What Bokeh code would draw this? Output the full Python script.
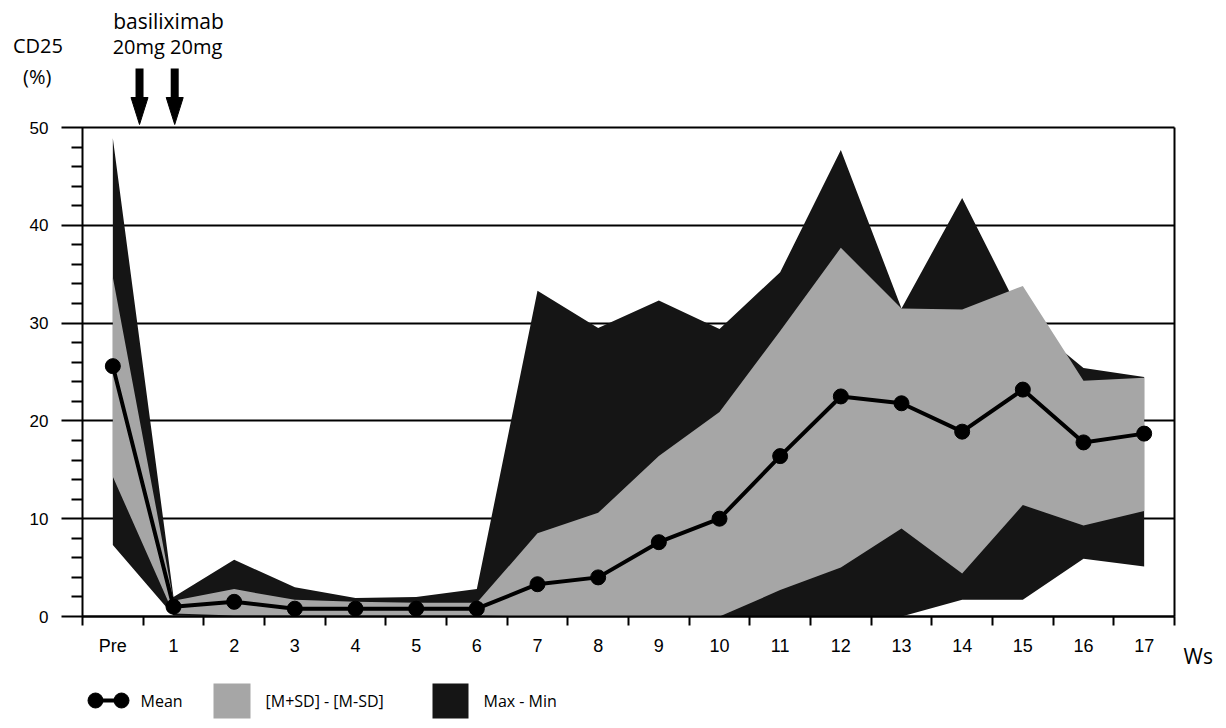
from bokeh.plotting import figure
from bokeh.models import Range1d, FixedTicker, LinearAxis
from bokeh.embed import file_html
from bokeh.resources import INLINE
from bokeh.core.properties import value

# ---- data (CD25 %) ----
weeks = ["Pre", "1", "2", "3", "4", "5", "6", "7", "8", "9", "10",
         "11", "12", "13", "14", "15", "16", "17"]
mean_v = [25.6, 1.0, 1.5, 0.8, 0.8, 0.8, 0.8, 3.3, 4.0, 7.6, 10.0,
          16.4, 22.5, 21.8, 18.9, 23.2, 17.8, 18.7]
msd_upper = [34.7, 1.6, 2.8, 1.7, 1.5, 1.4, 1.4, 8.5, 10.6, 16.4, 20.9,
             29.2, 37.7, 31.5, 31.4, 33.8, 24.1, 24.4]
msd_lower = [14.3, 0.3, 0.1, 0.1, 0.1, 0.1, 0.1, 0.0, 0.0, 0.0, 0.0,
             2.7, 5.0, 9.0, 4.4, 11.4, 9.3, 10.8]
max_v = [48.9, 2.0, 5.8, 3.0, 1.9, 2.0, 2.8, 33.3, 29.5, 32.3, 29.4,
         35.2, 47.7, 31.5, 42.8, 30.5, 25.4, 24.5]
min_v = [7.3, 0.1, 0.0, 0.0, 0.0, 0.0, 0.0, 0.0, 0.0, 0.0, 0.0,
         0.0, 0.0, 0.0, 1.7, 1.7, 5.9, 5.1]
y_ticks = [0, 10, 20, 30, 40, 50]
y_minor = [2, 4, 6, 8, 12, 14, 16, 18, 22, 24, 26, 28, 32, 34, 36, 38, 42, 44, 46, 48]
dose_weeks = [0.44, 1.02]          # basiliximab dosing positions
dose_labels = ["20mg", "20mg"]
legend_labels = ["Mean", "[M+SD] - [M-SD]", "Max - Min"]

BLACK = "#151515"
GRAY = "#a6a6a6"
FONT = "Open Sans"
xs = list(range(len(weeks)))
X_LO, X_HI = -0.5, len(weeks) - 0.5
Y_LO, Y_HI = 0, 50

# ---- layout constants (pixels) ----
W, H = 1218, 722
FL, FW = 82, 1092          # plot area left edge and width
FB, FT = 616, 127          # pixel rows of y=0 and y=50
bw = FW / (X_HI - X_LO)
ppu = (FB - FT) / (Y_HI - Y_LO)


def hx(px):
    return X_LO + (px - FL) / bw


def vy(py):
    return Y_LO + (FB - py) / ppu


p = figure(width=W, height=H,
           x_range=Range1d(hx(0), hx(W)), y_range=Range1d(vy(H), vy(0)),
           output_backend="svg", toolbar_location=None, min_border=0)
p.outline_line_color = None
p.background_fill_color = "white"
p.border_fill_color = "white"
p.xgrid.visible = False
p.ygrid.visible = False

# ---- data marks ----
p.varea(x=xs, y1=min_v, y2=max_v, fill_color=BLACK)
p.varea(x=xs, y1=msd_lower, y2=msd_upper, fill_color=GRAY)
p.line(xs, mean_v, line_color="black", line_width=4)
p.scatter(xs, mean_v, size=15, color="black")

# ---- x axis at y = 0 ----
xa = p.xaxis[0]
xa.fixed_location = Y_LO
xa.bounds = (X_LO, X_HI)
xa.ticker = FixedTicker(ticks=xs, minor_ticks=[i - 0.5 for i in range(len(weeks) + 1)])
xa.major_label_overrides = {i: w for i, w in enumerate(weeks)}
xa.major_tick_out = 0
xa.major_tick_in = 0
xa.minor_tick_out = 9
xa.minor_tick_in = 0
xa.minor_tick_line_width = 2
xa.minor_tick_line_color = "black"
xa.axis_line_width = 2
xa.axis_line_color = "black"
xa.major_label_text_font = "Liberation Sans"
xa.major_label_text_font_size = "18px"
xa.major_label_text_color = "black"
xa.major_label_standoff = 10

# ---- y axis at left edge; long inward major ticks act as the grid ----
ya = p.yaxis[0]
ya.fixed_location = X_LO
ya.bounds = (Y_LO, Y_HI)
ya.level = "underlay"
ya.ticker = FixedTicker(ticks=y_ticks, minor_ticks=y_minor)
ya.major_tick_out = 21
ya.major_tick_in = FW
ya.minor_tick_out = 11
ya.minor_tick_in = 0
ya.major_tick_line_width = 2
ya.minor_tick_line_width = 2
ya.major_tick_line_color = "black"
ya.minor_tick_line_color = "black"
ya.axis_line_width = 2
ya.axis_line_color = "black"
ya.major_label_text_font = "Liberation Sans"
ya.major_label_text_font_size = "17px"
ya.major_label_text_color = "black"
ya.major_label_standoff = 13

# right frame line
ra = LinearAxis(fixed_location=X_HI, bounds=(Y_LO, Y_HI), ticker=FixedTicker(ticks=[]),
                axis_line_width=2, axis_line_color="black",
                major_tick_out=0, major_tick_in=0, minor_tick_out=0, minor_tick_in=0)
p.add_layout(ra, "right")

# ---- texts above / beside the plot ----
txt = dict(text_font=value(FONT), text_color="black", text_baseline="alphabetic")
p.text(x=[hx(168)], y=[vy(20)], text=["basiliximab"], text_align="center",
       text_font_size="21px", **txt)
p.text(x=[hx(167)], y=[vy(46)], text=[" ".join(dose_labels)], text_align="center",
       text_font_size="20px", **txt)
p.text(x=[hx(37.5)], y=[vy(45)], text=["CD25"], text_align="center",
       text_font_size="20px", **txt)
p.text(x=[hx(36.7)], y=[vy(76)], text=["(%)"], text_align="center",
       text_font_size="20px", **txt)
p.text(x=[hx(1183)], y=[vy(655)], text=["Ws"], text_align="left",
       text_font_size="21px", **txt)

# dose arrows
hw = 8.5 / bw
p.segment(x0=dose_weeks, y0=[vy(68)] * len(dose_weeks), x1=dose_weeks,
          y1=[vy(100)] * len(dose_weeks), line_width=8, line_color="black", line_cap="butt")
p.patches(xs=[[d - hw, d + hw, d] for d in dose_weeks],
          ys=[[vy(97), vy(97), vy(124)] for _ in dose_weeks],
          fill_color="black", line_color="black", line_width=1)

# ---- legend ----
ly = vy(700)
p.line([hx(95), hx(121)], [ly, ly], line_color="black", line_width=4)
p.scatter([hx(95), hx(121)], [ly, ly], size=15, color="black")
p.quad(left=[hx(213)], right=[hx(250)], top=[vy(683)], bottom=[vy(718)],
       fill_color=GRAY, line_color=None)
p.quad(left=[hx(432)], right=[hx(468)], top=[vy(683)], bottom=[vy(718)],
       fill_color=BLACK, line_color=None)
p.text(x=[hx(140), hx(265), hx(483)], y=[ly] * 3, text=legend_labels,
       text_baseline="middle", text_font=value(FONT), text_font_size="16px",
       text_color="black")

open("out.html", "w").write(file_html(p, INLINE))
